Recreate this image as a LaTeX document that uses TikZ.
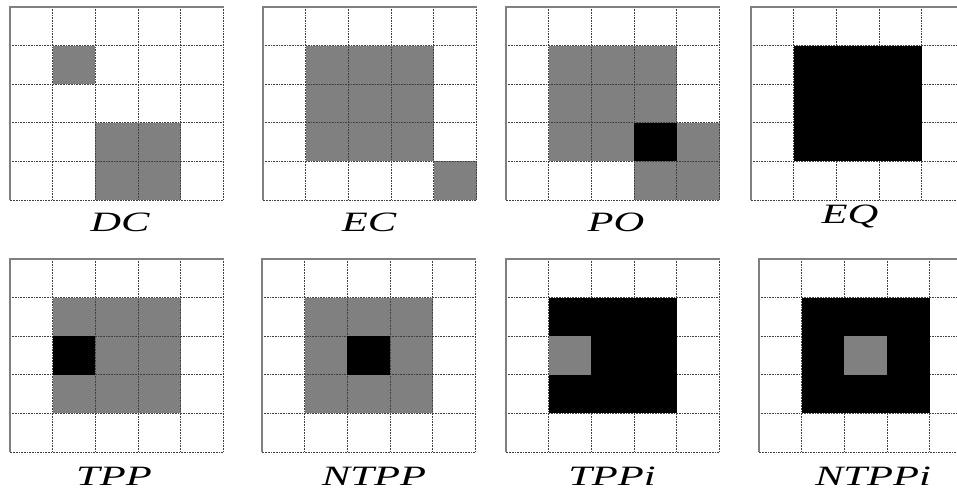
\documentclass[tikz,border=0pt]{standalone}
\usepackage{fontspec}
\setmainfont{Liberation Serif}
\newcommand{\gpanel}[4]{%
  \begin{scope}[shift={(#1,#2)}, x=42.7pt, y=-38.6pt]
    #3
    \foreach \i in {1,...,4} {
      \draw[gridline] (\i,0) -- (\i,5);
      \draw[gridline] (0,\i) -- (5,\i);
    }
    \draw[gridline] (5,0) -- (5,5) -- (0,5);
    \draw[frame] (0,5) -- (0,0) -- (5,0);
    #4
  \end{scope}}
\newcommand{\plabel}[1]{\scalebox{1.52}[1]{\itshape #1}}
\begin{document}
\begin{tikzpicture}[x=1pt, y=-1pt,
  gridline/.style={black!75, line width=0.8pt, dash pattern=on 0.8pt off 0.8pt},
  frame/.style={black!50, line width=1.3pt},
  gr/.style={fill=black!50},
  bk/.style={fill=black},
  lab/.style={anchor=base, inner sep=0pt, font=\fontsize{28}{32}\selectfont}]
\clip (0,0) rectangle (957,491);
\fill[white] (0,0) rectangle (957,491);
% row 1
\gpanel{10}{7}{\fill[gr] (1,1) rectangle (2,2); \fill[gr] (2,3) rectangle (4,5);}{}
\gpanel{263}{7}{\fill[gr] (1,1) rectangle (4,4); \fill[gr] (4,4) rectangle (5,5);}{}
\gpanel{506}{7}{\fill[gr] (1,1) rectangle (4,4); \fill[gr] (4,3) rectangle (5,5); \fill[gr] (3,4) rectangle (4,5);}{\fill[bk] (3,3) rectangle (4,4);}
\gpanel{751}{7}{}{\fill[bk] (1,1) rectangle (4,4);}
% row 2
\gpanel{10}{259}{\fill[gr] (1,1) rectangle (4,4);}{\fill[bk] (1,2) rectangle (2,3);}
\gpanel{262}{259}{\fill[gr] (1,1) rectangle (4,4);}{\fill[bk] (2,2) rectangle (3,3);}
\gpanel{506}{259}{}{\fill[bk] (1,1) rectangle (4,4); \fill[gr] (1,2) rectangle (2,3);}
\gpanel{759}{259}{}{\fill[bk] (1,1) rectangle (4,4); \fill[gr] (2,2) rectangle (3,3);}
% labels
\node[lab] (lDC) at (120,231) {\plabel{DC}};
\node[lab] (lEC) at (369,231) {\plabel{EC}};
\node[lab] (lPO) at (616,231) {\plabel{PO}};
\node[lab] (lEQ) at (850,223) {\plabel{EQ}};
\node[lab] (lTPP) at (114,485) {\plabel{TPP}};
\node[lab] (lNTPP) at (374,485) {\plabel{NTPP}};
\node[lab] (lTPPi) at (612,485) {\plabel{TPPi}};
\node[lab] (lNTPPi) at (873,485) {\plabel{NTPPi}};
\end{tikzpicture}
\end{document}
